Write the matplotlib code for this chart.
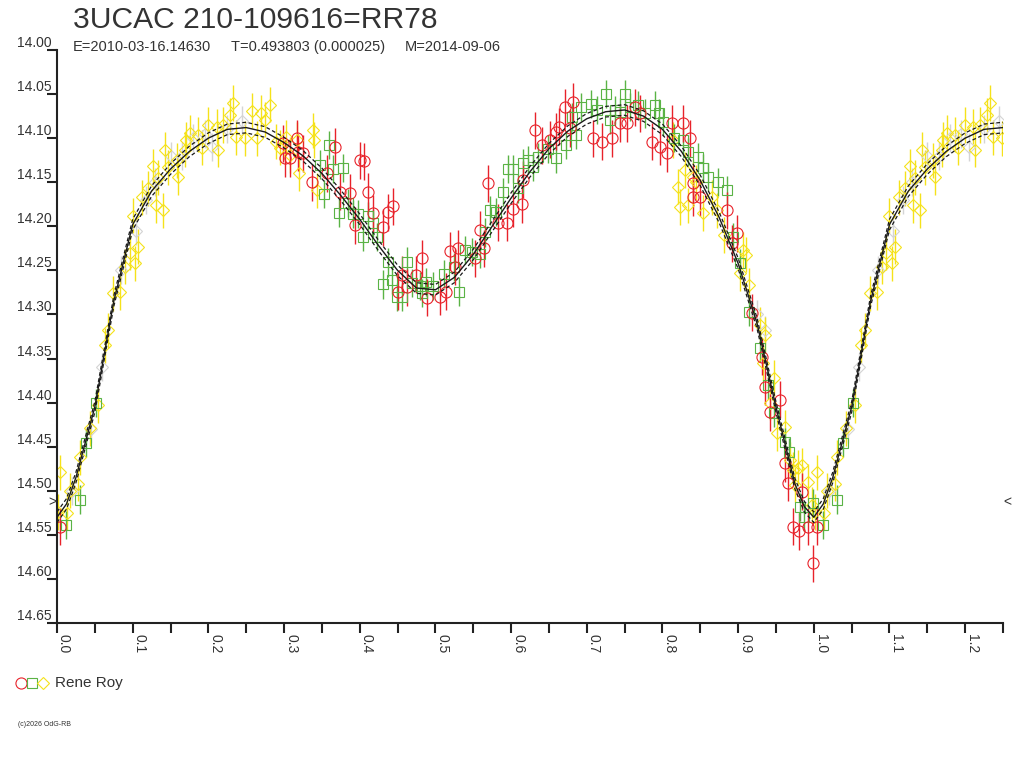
import numpy as np
import matplotlib
matplotlib.use('Agg')
import matplotlib.pyplot as plt
from matplotlib.lines import Line2D

plt.rcParams['font.family'] = ['Liberation Sans', 'DejaVu Sans']

red_phase = [0.004, 0.299, 0.301, 0.308, 0.317, 0.319, 0.325, 0.337, 0.357, 0.367,
             0.374, 0.387, 0.400, 0.406, 0.411, 0.394, 0.417, 0.431, 0.437, 0.444,
             0.451, 0.456, 0.462, 0.475, 0.482, 0.489, 0.506, 0.514, 0.519, 0.526,
             0.530, 0.552, 0.559, 0.564, 0.569, 0.583, 0.594, 0.602, 0.614, 0.616,
             0.631, 0.641, 0.651, 0.659, 0.663, 0.671, 0.678, 0.682, 0.708, 0.720,
             0.733, 0.744, 0.753, 0.764, 0.770, 0.786, 0.797, 0.806, 0.812, 0.827,
             0.836, 0.840, 0.841, 0.849, 0.885, 0.892, 0.898, 0.919, 0.931, 0.935,
             0.942, 0.955, 0.962, 0.966, 0.972, 0.980, 0.985, 0.992, 0.999]
red_mag = [14.541, 14.106, 14.123, 14.123, 14.100, 14.116, 14.117, 14.150, 14.140, 14.110,
           14.161, 14.162, 14.125, 14.126, 14.161, 14.199, 14.185, 14.201, 14.184, 14.177,
           14.274, 14.255, 14.269, 14.255, 14.236, 14.281, 14.280, 14.274, 14.228, 14.246,
           14.225, 14.236, 14.204, 14.225, 14.151, 14.196, 14.196, 14.180, 14.175, 14.147,
           14.091, 14.108, 14.102, 14.093, 14.087, 14.065, 14.089, 14.059, 14.100, 14.104,
           14.100, 14.083, 14.083, 14.065, 14.072, 14.104, 14.110, 14.117, 14.083, 14.083,
           14.100, 14.151, 14.167, 14.167, 14.182, 14.219, 14.208, 14.298, 14.348, 14.382,
           14.411, 14.397, 14.469, 14.491, 14.541, 14.546, 14.501, 14.541, 14.582]

green_phase = [0.012, 0.030, 0.038, 0.052, 0.348, 0.353, 0.359, 0.365, 0.372, 0.378,
               0.384, 0.391, 0.398, 0.404, 0.411, 0.418, 0.423, 0.431, 0.437, 0.443,
               0.449, 0.456, 0.462, 0.469, 0.479, 0.482, 0.487, 0.497, 0.511, 0.525,
               0.531, 0.539, 0.548, 0.559, 0.565, 0.572, 0.580, 0.589, 0.596, 0.602,
               0.609, 0.616, 0.622, 0.629, 0.635, 0.649, 0.660, 0.673, 0.680, 0.686,
               0.692, 0.705, 0.713, 0.725, 0.731, 0.737, 0.744, 0.750, 0.757, 0.768,
               0.777, 0.790, 0.795, 0.801, 0.815, 0.827, 0.834, 0.847, 0.853, 0.860,
               0.873, 0.885, 0.893, 0.902, 0.915, 0.929, 0.939, 0.948, 0.962, 0.967,
               0.982, 0.987, 0.999]
green_mag = [14.539, 14.510, 14.446, 14.400, 14.130, 14.163, 14.108, 14.135, 14.185, 14.134,
             14.174, 14.186, 14.186, 14.212, 14.188, 14.196, 14.212, 14.266, 14.241, 14.261,
             14.280, 14.280, 14.240, 14.264, 14.268, 14.276, 14.263, 14.268, 14.254, 14.246,
             14.274, 14.227, 14.229, 14.231, 14.207, 14.182, 14.184, 14.161, 14.135, 14.135,
             14.157, 14.128, 14.125, 14.133, 14.121, 14.112, 14.123, 14.108, 14.076, 14.096,
             14.065, 14.061, 14.068, 14.050, 14.079, 14.068, 14.070, 14.050, 14.065, 14.062,
             14.072, 14.062, 14.072, 14.082, 14.100, 14.102, 14.116, 14.121, 14.134, 14.144,
             14.150, 14.159, 14.212, 14.242, 14.297, 14.338, 14.380, 14.412, 14.445, 14.456,
             14.518, 14.530, 14.514]

yellow_phase = [0.001, 0.004, 0.013, 0.017, 0.028, 0.031, 0.043, 0.054, 0.063, 0.067,
                0.074, 0.083, 0.090, 0.096, 0.100, 0.103, 0.107, 0.112, 0.120, 0.127,
                0.131, 0.134, 0.140, 0.143, 0.147, 0.158, 0.160, 0.169, 0.171, 0.176,
                0.186, 0.191, 0.200, 0.211, 0.213, 0.220, 0.229, 0.233, 0.237, 0.249,
                0.258, 0.264, 0.270, 0.275, 0.281, 0.290, 0.295, 0.303, 0.308, 0.317,
                0.320, 0.338, 0.339, 0.343, 0.814, 0.820, 0.823, 0.830, 0.834, 0.840,
                0.845, 0.853, 0.865, 0.872, 0.882, 0.902, 0.906, 0.911, 0.915, 0.929,
                0.933, 0.935, 0.942, 0.948, 0.952, 0.962, 0.968, 0.972, 0.975, 0.979,
                0.984, 0.992, 0.997]
yellow_mag = [14.524, 14.479, 14.525, 14.500, 14.492, 14.462, 14.429, 14.403, 14.335, 14.318,
              14.276, 14.275, 14.246, 14.230, 14.188, 14.242, 14.223, 14.167, 14.157, 14.132,
              14.176, 14.145, 14.182, 14.113, 14.133, 14.125, 14.144, 14.113, 14.102, 14.094,
              14.096, 14.111, 14.085, 14.087, 14.113, 14.085, 14.074, 14.060, 14.099, 14.100,
              14.069, 14.100, 14.071, 14.079, 14.062, 14.104, 14.111, 14.099, 14.119, 14.102,
              14.140, 14.091, 14.102, 14.159, 14.102, 14.155, 14.178, 14.136, 14.176, 14.144,
              14.150, 14.185, 14.167, 14.182, 14.210, 14.253, 14.227, 14.232, 14.267, 14.312,
              14.355, 14.323, 14.400, 14.372, 14.435, 14.428, 14.465, 14.476, 14.493, 14.474,
              14.471, 14.490, 14.516]

grey_phase = [0.020, 0.045, 0.060, 0.085, 0.105, 0.118, 0.130, 0.150, 0.165, 0.180,
              0.195, 0.205, 0.225, 0.245, 0.925, 0.936]
grey_mag = [14.500, 14.430, 14.360, 14.250, 14.205, 14.170, 14.150, 14.120, 14.120, 14.100,
            14.095, 14.110, 14.090, 14.080, 14.300, 14.318]

red_err, green_err, yellow_err, grey_err = 0.021, 0.016, 0.020, 0.016

# fitted light curve
fit_phase = [0.0, 0.0125, 0.025, 0.05, 0.075, 0.1, 0.125, 0.15, 0.175, 0.2, 0.225, 0.25,
             0.275, 0.3, 0.325, 0.35, 0.375, 0.4, 0.425, 0.45, 0.475, 0.5, 0.525, 0.55,
             0.575, 0.6, 0.625, 0.65, 0.675, 0.7, 0.725, 0.75, 0.775, 0.8, 0.825, 0.85,
             0.875, 0.9, 0.925, 0.95, 0.975, 0.9875]
fit_mag = [14.530, 14.515, 14.485, 14.405, 14.285, 14.198, 14.160, 14.135, 14.115, 14.100,
           14.090, 14.088, 14.093, 14.105, 14.120, 14.140, 14.165, 14.192, 14.222, 14.250,
           14.270, 14.272, 14.258, 14.232, 14.200, 14.168, 14.138, 14.112, 14.092, 14.078,
           14.070, 14.068, 14.075, 14.090, 14.115, 14.148, 14.190, 14.242, 14.310, 14.405,
           14.492, 14.518]
fit_band = 0.006

xmax = 1.25


def fold(ph, mg):
    ph = np.asarray(ph)
    mg = np.asarray(mg)
    m = ph <= xmax - 1
    return np.concatenate([ph, ph[m] + 1]), np.concatenate([mg, mg[m]])


fig = plt.figure(figsize=(10.24, 7.68), dpi=100)
ax = fig.add_axes([57/1024, 1-623/768, (1003-57)/1024, (623-50)/768])

series = [
    (grey_phase, grey_mag, grey_err, '#d4d4d4', 'D', 6.3),
    (yellow_phase, yellow_mag, yellow_err, '#f5e21a', 'D', 6.3),
    (green_phase, green_mag, green_err, '#5ab345', 's', 6.8),
    (red_phase, red_mag, red_err, '#e8222a', 'o', 8),
]
for ph, mg, err, col, mk, ms in series:
    p, m = fold(ph, mg)
    ax.errorbar(p, m, yerr=err, fmt=mk, ms=ms, mfc='none', mec=col, mew=0.8,
                ecolor=col, elinewidth=1.0, capsize=0)

fp, fm = fold(fit_phase + [1.0], fit_mag + [fit_mag[0]])
order = np.argsort(fp)
fp, fm = fp[order], fm[order]
ax.plot(fp, fm, color='#1a1a1a', lw=1.0, zorder=5)
ax.plot(fp, fm - fit_band, color='#1a1a1a', lw=0.9, ls=(0, (3, 2)), zorder=5)
ax.plot(fp, fm + fit_band, color='#1a1a1a', lw=0.9, ls=(0, (3, 2)), zorder=5)

ax.set_xlim(0, xmax)
ax.set_ylim(14.65, 14.00)
for s in ['top', 'right']:
    ax.spines[s].set_visible(False)
for s in ['left', 'bottom']:
    ax.spines[s].set_linewidth(1.5)
    ax.spines[s].set_color('#222222')

xt = np.round(np.arange(0, 1.21, 0.1), 2)
ax.set_xticks(xt)
ax.set_xticklabels(['%.1f' % v for v in xt], rotation=-90, ha='left', va='top')
ax.set_xticks(np.round(np.arange(0.05, 1.26, 0.1), 2), minor=True)
yt = np.round(np.arange(14.0, 14.651, 0.05), 2)
ax.set_yticks(yt)
ax.set_yticklabels(['%.2f' % v for v in yt], va='bottom')
ax.tick_params(which='both', direction='out', length=7, width=1.5, color='#222222',
               labelsize=10, labelcolor='#333333')
ax.tick_params(axis='y', pad=-3)
ax.tick_params(axis='x', pad=1)

ax.text(-0.006, 14.513, '>', ha='center', va='center', fontsize=10, color='#333333', clip_on=False)
ax.text(1.2555, 14.513, '<', ha='center', va='center', fontsize=10, color='#333333', clip_on=False)

fig.text(73/1024, 1-20/768, '3UCAC 210-109616=RR78', fontsize=21.6, color='#333333', va='center')
fig.text(73/1024, 1-47/768, 'E=2010-03-16.14630', fontsize=10.5, color='#333333', va='center')
fig.text(231/1024, 1-47/768, 'T=0.493803 (0.000025)', fontsize=10.5, color='#333333', va='center')
fig.text(405/1024, 1-47/768, 'M=2014-09-06', fontsize=10.5, color='#333333', va='center')

# legend row
ly = 1 - 683/768
for lx, mk, col, ms in [(21, 'o', '#e8222a', 8), (32, 's', '#5ab345', 6.8), (43, 'D', '#f5e21a', 6.3)]:
    fig.add_artist(Line2D([lx/1024], [ly], marker=mk, ms=ms, mfc='none', mec=col, mew=0.8,
                          ls='none', transform=fig.transFigure))
fig.text(55/1024, ly, 'Rene Roy', fontsize=11, color='#333333', va='center')
fig.text(18/1024, 1-725/768, '(c)2026 OdG-RB', fontsize=5, color='#333333', va='center')

fig.savefig('out.png', dpi=100)
